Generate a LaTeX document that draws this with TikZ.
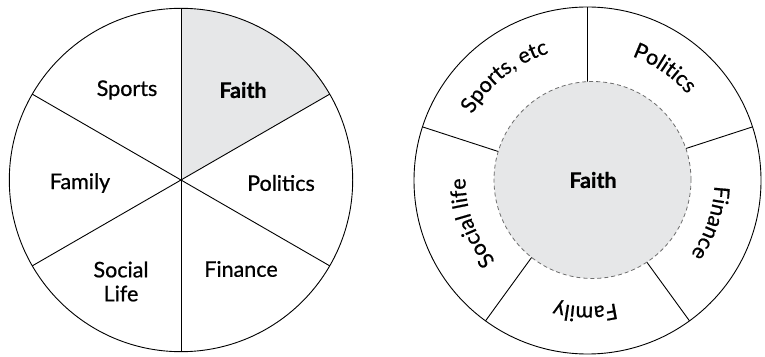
\documentclass[tikz,border=0pt]{standalone}
\usepackage{fontspec}
\setmainfont{Lato}[FakeBold=0.7]
\usetikzlibrary{decorations.text}
\definecolor{faithgray}{HTML}{E6E7E8}
\definecolor{dashgray}{HTML}{6E6E6E}
\newcommand\lblfont{\fontsize{21.5}{24}\selectfont}
\begin{document}
\begin{tikzpicture}[x=1pt,y=1pt,
  lbl/.style={font=\lblfont, align=center, inner sep=0pt},
  boldlbl/.style={font=\lblfont\bfseries, inner sep=0pt},
  wheel/.style={draw=black, line width=0.9pt},
  divider/.style={draw=black, line width=0.9pt},
  arctext/.style={decorate, decoration={text along path, text align=center, text={|\lblfont|#1}}}]
\useasboundingbox (0,0) rectangle (765,356);
% ---------- left pie ----------
\coordinate (L) at (181,176);
\fill[faithgray] (L) -- ++(30:171.7) arc[start angle=30,end angle=90,radius=171.7] -- cycle;
\foreach \a in {30,90,150,210,270,330} \draw[divider] (L) -- ++(\a:171.7);
\draw[wheel] (L) circle[radius=171.7];
\node[lbl] (sports) at (127,266) {Sports};
\node[boldlbl] (faith) at (243,266) {Faith};
\node[lbl] (family) at (80,173) {Family};
\node[lbl] (politics) at (281,173) {Politics};
\node[lbl] (social) at (121,74.5) {Social\\Life};
\node[lbl] (finance) at (241,87) {Finance};
% ---------- right ring ----------
\coordinate (R) at (587.5,175.5);
\coordinate (Ri) at (592.5,176);
\foreach \a in {90,18,-54,-126,162} \draw[divider] ([shift={(\a:90)}]R) -- ([shift={(\a:173.5)}]R);
\draw[wheel] (R) circle[radius=173.5];
\filldraw[fill=faithgray, draw=dashgray, dash pattern=on 4pt off 3pt, line width=0.8pt] (Ri) circle[radius=98.5];
\node[boldlbl] (faith2) at (593,176) {Faith};
\path[arctext={Sports, etc}] ([shift={(168.5:133)}]R) arc[start angle=168.5, end angle=88.5, radius=133];
\path[arctext={Politics}] ([shift={(95.5:132)}]R) arc[start angle=95.5, end angle=15.5, radius=132];
\path[arctext={Finance}] ([shift={(21:127)}]R) arc[start angle=21, end angle=-59, radius=127];
\path[arctext={Family}] ([shift={(-51:126)}]R) arc[start angle=-51, end angle=-131, radius=126];
\path[arctext={Social life}] ([shift={(240:122)}]R) arc[start angle=240, end angle=160, radius=122];
\end{tikzpicture}
\end{document}
